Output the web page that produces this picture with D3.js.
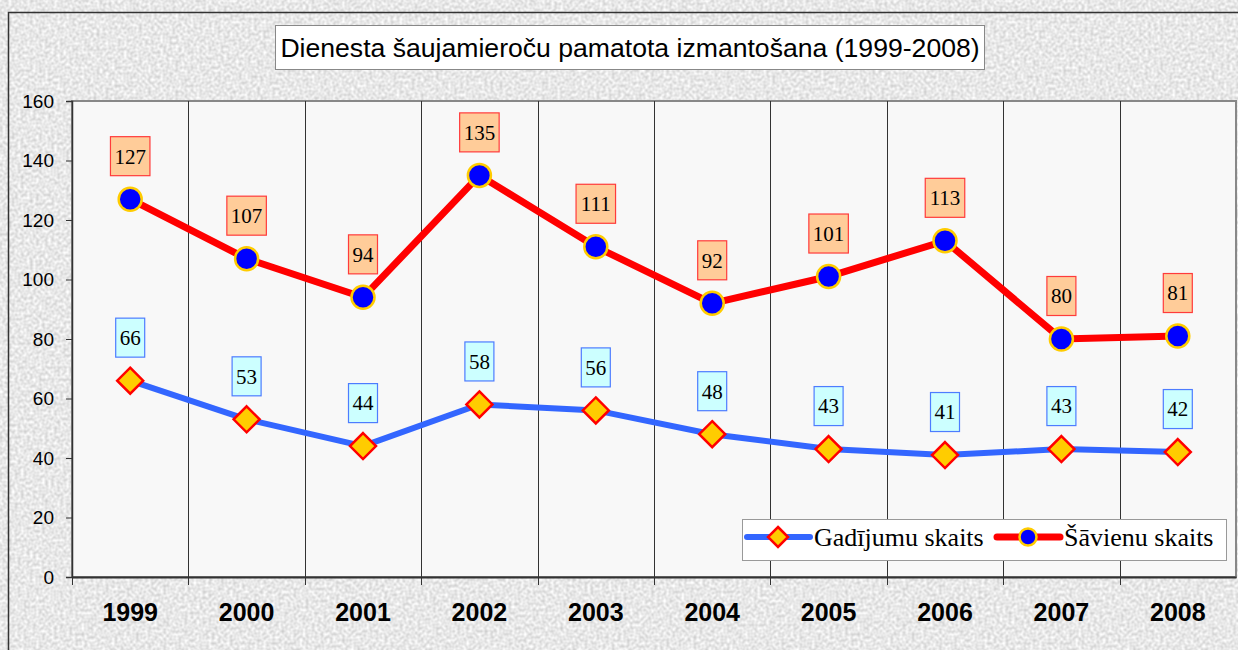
<!DOCTYPE html>
<html>
<head>
<meta charset="utf-8">
<script src="https://cdn.jsdelivr.net/npm/d3@7"></script>
<style>
  body { margin: 0; background: #fff; }
  svg { display: block; }
</style>
</head>
<body>
<div id="chart"></div>
<script>
// Chart data
var years = ["1999", "2000", "2001", "2002", "2003", "2004", "2005", "2006", "2007", "2008"];
var gadijumi = [66, 53, 44, 58, 56, 48, 43, 41, 43, 42];
var savieni = [127, 107, 94, 135, 111, 92, 101, 113, 80, 81];
var yTicks = [0, 20, 40, 60, 80, 100, 120, 140, 160];
var title = "Dienesta šaujamieroču pamatota izmantošana (1999-2008)";
var seriesNames = ["Gadījumu skaits", "Šāvienu skaits"];

var width = 1238, height = 650;
var plot = {left: 72, right: 1236, top: 101, bottom: 577};

var svg = d3.select("#chart")
    .append("svg")
    .attr("width", width)
    .attr("height", height);

// Grainy grey texture for the chart frame
var defs = svg.append("defs");
var noise = defs.append("filter")
    .attr("id", "grain")
    .attr("color-interpolation-filters", "sRGB")
    .attr("filterUnits", "userSpaceOnUse")
    .attr("x", 0).attr("y", 0).attr("width", width).attr("height", height);
noise.append("feTurbulence")
    .attr("type", "fractalNoise")
    .attr("baseFrequency", 0.33)
    .attr("numOctaves", 1)
    .attr("seed", 4)
    .attr("result", "n");
noise.append("feColorMatrix")
    .attr("type", "matrix")
    .attr("values", "0.3 0 0 0 0.76  0.3 0 0 0 0.76  0.3 0 0 0 0.76  0 0 0 0 1");

svg.append("rect")
    .attr("x", 8.5).attr("y", 12.5)
    .attr("width", 1300).attr("height", 700)
    .style("fill", "#e8e8e8")
    .attr("filter", "url(#grain)");
svg.append("rect")
    .attr("x", 8.5).attr("y", 12.5)
    .attr("width", 1300).attr("height", 700)
    .style("fill", "none")
    .style("stroke", "#333")
    .style("stroke-width", 1.5);

// Scales
var x = d3.scaleBand()
    .domain(years)
    .range([plot.left, plot.right]);

var y = d3.scaleLinear()
    .domain([0, 160])
    .range([plot.bottom, plot.top]);

var cx = function(d, i) { return x(years[i]) + x.bandwidth() / 2; };

// Plot area
svg.append("rect")
    .attr("x", plot.left).attr("y", plot.top)
    .attr("width", plot.right - plot.left)
    .attr("height", plot.bottom - plot.top)
    .style("fill", "#f8f8f8")
    .style("stroke", "#888")
    .style("stroke-width", 2);

// Vertical gridlines between categories
svg.append("g")
    .selectAll("line")
    .data(years.slice(1))
    .enter()
    .append("line")
    .attr("x1", d => Math.round(x(d)) + 0.5)
    .attr("x2", d => Math.round(x(d)) + 0.5)
    .attr("y1", plot.top)
    .attr("y2", plot.bottom + 8)
    .style("stroke", "#333")
    .style("stroke-width", 1);

// Y axis
var yAxis = svg.append("g")
    .attr("transform", "translate(" + plot.left + ",0)")
    .call(d3.axisLeft(y).tickValues(yTicks).tickSize(6).tickPadding(12));
yAxis.select(".domain").style("stroke", "#333").style("stroke-width", 1.5);
yAxis.selectAll(".tick line").style("stroke", "#333");
yAxis.selectAll("text")
    .style("font-family", "'Liberation Sans', Arial, sans-serif")
    .style("font-size", "19px")
    .style("fill", "#000");

// X axis
var xAxis = svg.append("g")
    .attr("transform", "translate(0," + plot.bottom + ")")
    .call(d3.axisBottom(x).tickSize(0).tickPadding(26));
xAxis.select(".domain").style("stroke", "#333").style("stroke-width", 2);
xAxis.selectAll("text")
    .style("font-family", "'Liberation Sans', Arial, sans-serif")
    .style("font-size", "25px")
    .style("font-weight", "bold")
    .style("fill", "#000");
svg.append("line")
    .attr("x1", plot.left + 0.5).attr("x2", plot.left + 0.5)
    .attr("y1", plot.bottom).attr("y2", plot.bottom + 8)
    .style("stroke", "#333");

// Lines
var line = d3.line()
    .x(cx)
    .y(d => y(d));

svg.append("path")
    .datum(gadijumi)
    .attr("d", line)
    .style("fill", "none")
    .style("stroke", "#3366ff")
    .style("stroke-width", 6);

svg.append("path")
    .datum(savieni)
    .attr("d", line)
    .style("fill", "none")
    .style("stroke", "#ff0000")
    .style("stroke-width", 7);

// Markers
var diamond = "M0,-13L13,0L0,13L-13,0Z";

svg.append("g")
    .selectAll("path")
    .data(gadijumi)
    .enter()
    .append("path")
    .attr("d", diamond)
    .attr("transform", (d, i) => "translate(" + cx(d, i) + "," + y(d) + ")")
    .style("fill", "#ffcc00")
    .style("stroke", "#ff0000")
    .style("stroke-width", 2.5);

svg.append("g")
    .selectAll("circle")
    .data(savieni)
    .enter()
    .append("circle")
    .attr("cx", cx)
    .attr("cy", d => y(d))
    .attr("r", 11.5)
    .style("fill", "#0000ff")
    .style("stroke", "#ffcc00")
    .style("stroke-width", 2.5);

// Data labels
function addLabels(values, fill, stroke) {
    var g = svg.append("g")
        .selectAll("g")
        .data(values)
        .enter()
        .append("g")
        .attr("transform", (d, i) => "translate(" + cx(d, i) + "," + (y(d) - 43) + ")");
    g.append("rect")
        .attr("x", d => -(String(d).length * 10.5 + 8) / 2)
        .attr("y", -19.5)
        .attr("width", d => String(d).length * 10.5 + 8)
        .attr("height", 39)
        .style("fill", fill)
        .style("stroke", stroke)
        .style("stroke-width", 1.2);
    g.append("text")
        .attr("text-anchor", "middle")
        .attr("dy", "0.35em")
        .style("font-family", "'Liberation Serif', 'Times New Roman', serif")
        .style("font-size", "21px")
        .style("fill", "#000")
        .text(d => d);
}
addLabels(gadijumi, "#ccffff", "#4d7cff");
addLabels(savieni, "#ffcc99", "#ff3b3b");

// Title
var titleG = svg.append("g");
titleG.append("rect")
    .attr("x", 275.5).attr("y", 25.5)
    .attr("width", 709).attr("height", 44)
    .style("fill", "#fff")
    .style("stroke", "#888")
    .style("stroke-width", 1);
titleG.append("text")
    .attr("x", 630).attr("y", 48)
    .attr("text-anchor", "middle")
    .attr("dy", "0.35em")
    .style("font-family", "'Liberation Sans', Arial, sans-serif")
    .style("font-size", "26.6px")
    .style("fill", "#000")
    .text(title);

// Legend
var legend = svg.append("g");
legend.append("rect")
    .attr("x", 742.5).attr("y", 519.5)
    .attr("width", 484).attr("height", 41)
    .style("fill", "#fff")
    .style("stroke", "#999")
    .style("stroke-width", 1);

var legendItems = [
    {name: seriesNames[0], x: 747, color: "#3366ff", w: 6, marker: "diamond"},
    {name: seriesNames[1], x: 997, color: "#ff0000", w: 7, marker: "circle"}
];
legendItems.forEach(function(item) {
    var g = legend.append("g").attr("transform", "translate(" + item.x + ",537)");
    g.append("line")
        .attr("x1", 0).attr("x2", 63)
        .style("stroke", item.color)
        .style("stroke-width", item.w)
        .style("stroke-linecap", "round");
    if (item.marker === "diamond") {
        g.append("path")
            .attr("d", "M0,-10L10,0L0,10L-10,0Z")
            .attr("transform", "translate(31,0)")
            .style("fill", "#ffcc00")
            .style("stroke", "#ff0000")
            .style("stroke-width", 2.5);
    } else {
        g.append("circle")
            .attr("cx", 31).attr("r", 8.5)
            .style("fill", "#0000ff")
            .style("stroke", "#ffcc00")
            .style("stroke-width", 2.5);
    }
    g.append("text")
        .attr("x", 67)
        .attr("dy", "0.35em")
        .style("font-family", "'Liberation Serif', 'Times New Roman', serif")
        .style("font-size", "26px")
        .style("fill", "#000")
        .text(item.name);
});
</script>
</body>
</html>
